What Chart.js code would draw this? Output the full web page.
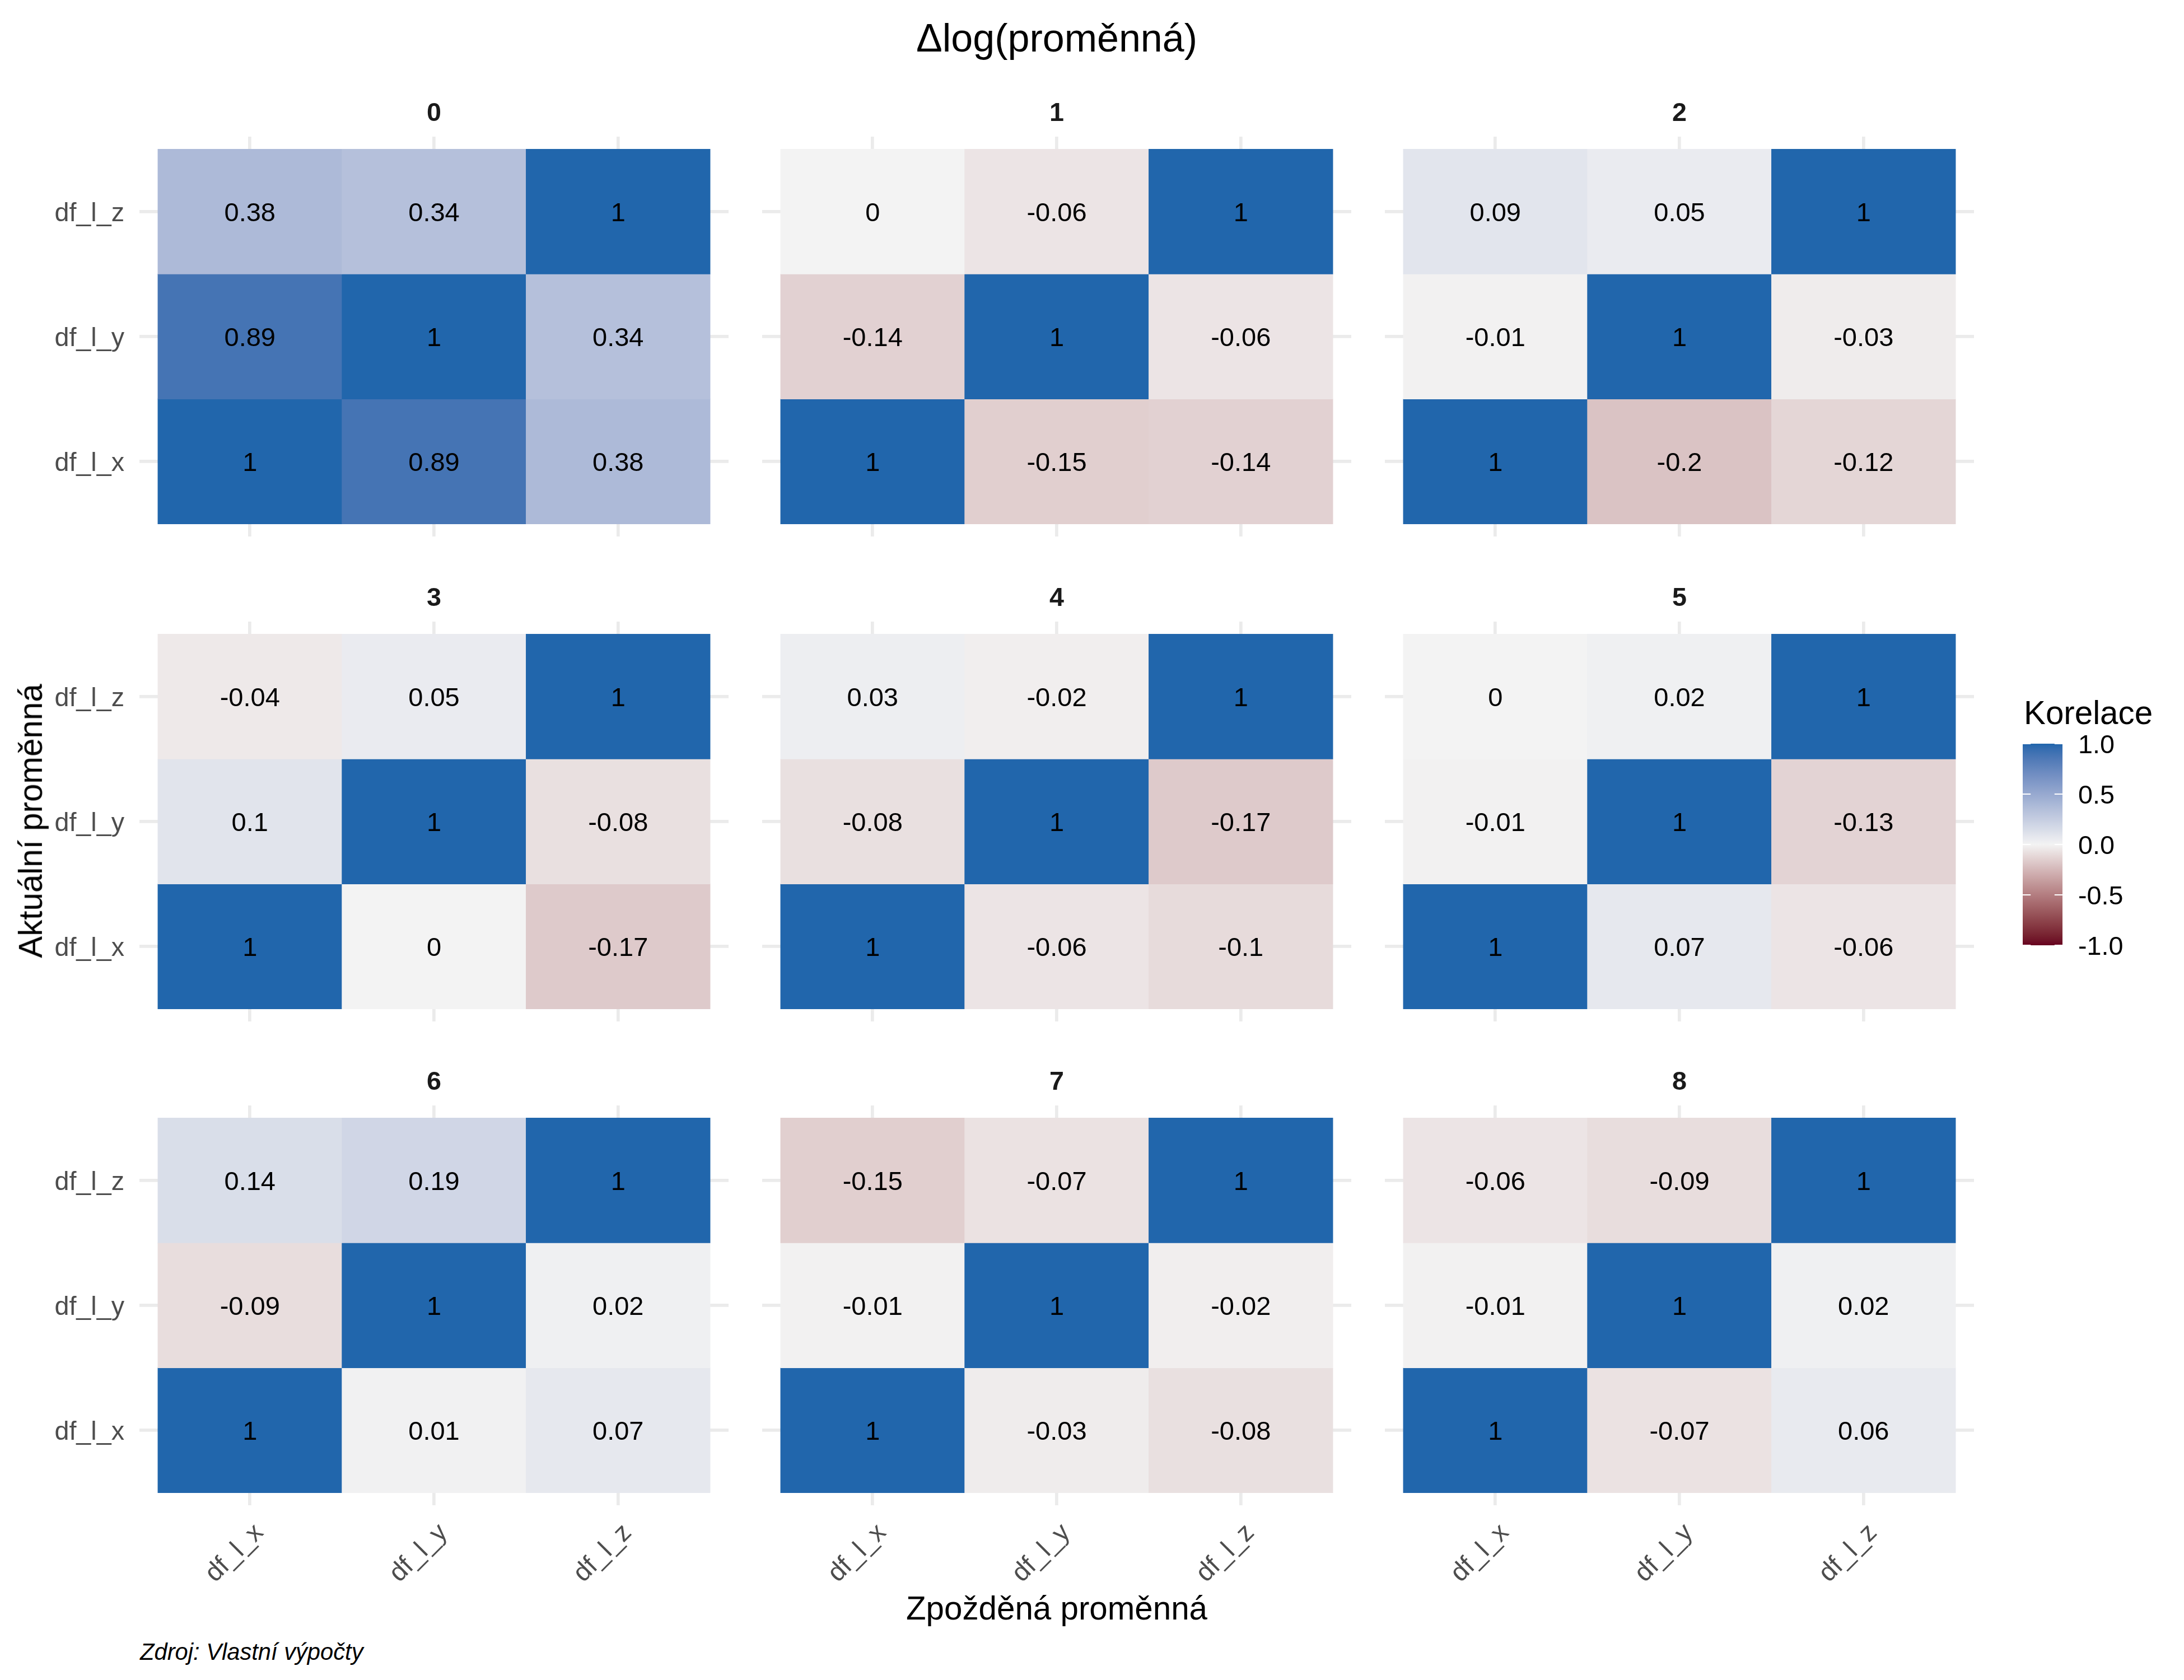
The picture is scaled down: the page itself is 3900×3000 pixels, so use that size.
<!DOCTYPE html>
<html lang="cs">
<head>
<meta charset="utf-8">
<title>Δlog(proměnná)</title>
<script src="https://cdn.jsdelivr.net/npm/chart.js@4.4.1/dist/chart.umd.min.js"></script>
<style>
  body { margin: 0; background: #fff; }
  #plot { position: relative; width: 3900px; height: 3000px; background: #fff; overflow: hidden;
          font-family: "Liberation Sans", Arial, sans-serif; }
  #plot canvas { position: absolute; }
  .txt { position: absolute; white-space: nowrap; line-height: 1; }
</style>
</head>
<body>
<div id="plot"></div>
<script>
// popisky
const lagy = ["0", "1", "2", "3", "4", "5", "6", "7", "8"];
const promenne = ["df_l_x", "df_l_y", "df_l_z"];
const legendaTicks = [-1, -0.5, 0, 0.5, 1];

// korelace: radek = aktualni promenna (df_l_x, df_l_y, df_l_z), sloupec = zpozdena promenna
const lag0 = [
    [1, 0.89, 0.38],
    [0.89, 1, 0.34],
    [0.38, 0.34, 1],
];
const lag1 = [
    [1, -0.15, -0.14],
    [-0.14, 1, -0.06],
    [0, -0.06, 1],
];
const lag2 = [
    [1, -0.2, -0.12],
    [-0.01, 1, -0.03],
    [0.09, 0.05, 1],
];
const lag3 = [
    [1, 0, -0.17],
    [0.1, 1, -0.08],
    [-0.04, 0.05, 1],
];
const lag4 = [
    [1, -0.06, -0.1],
    [-0.08, 1, -0.17],
    [0.03, -0.02, 1],
];
const lag5 = [
    [1, 0.07, -0.06],
    [-0.01, 1, -0.13],
    [0, 0.02, 1],
];
const lag6 = [
    [1, 0.01, 0.07],
    [-0.09, 1, 0.02],
    [0.14, 0.19, 1],
];
const lag7 = [
    [1, -0.03, -0.08],
    [-0.01, 1, -0.02],
    [-0.15, -0.07, 1],
];
const lag8 = [
    [1, -0.07, 0.06],
    [-0.01, 1, 0.02],
    [-0.06, -0.09, 1],
];
const korelace = [lag0, lag1, lag2, lag3, lag4, lag5, lag6, lag7, lag8];

const FONT = '"Liberation Sans", Arial, sans-serif';
Chart.defaults.font.family = FONT;

// barvy: gradient2 v Lab prostoru (low - mid - high)
const barvaLow = "#67001F";
const barvaMid = "#F3F3F3";
const barvaHigh = "#2166AC";

function hexToLab(hex) {
    const rgb = [1, 3, 5].map(i => parseInt(hex.slice(i, i + 2), 16) / 255)
        .map(c => c <= 0.04045 ? c / 12.92 : Math.pow((c + 0.055) / 1.055, 2.4));
    const [r, g, b] = rgb;
    const x = (0.4124564 * r + 0.3575761 * g + 0.1804375 * b) / 0.95047;
    const y = (0.2126729 * r + 0.7151522 * g + 0.0721750 * b);
    const z = (0.0193339 * r + 0.1191920 * g + 0.9503041 * b) / 1.08883;
    const f = t => t > 0.008856 ? Math.cbrt(t) : 7.787 * t + 16 / 116;
    const fx = f(x), fy = f(y), fz = f(z);
    return [116 * fy - 16, 500 * (fx - fy), 200 * (fy - fz)];
}

function labToRgb([L, a, bb]) {
    const fy = (L + 16) / 116;
    const fx = fy + a / 500;
    const fz = fy - bb / 200;
    const inv = t => t * t * t > 0.008856 ? t * t * t : (t - 16 / 116) / 7.787;
    const x = inv(fx) * 0.95047, y = inv(fy), z = inv(fz) * 1.08883;
    let r = 3.2404542 * x - 1.5371385 * y - 0.4985314 * z;
    let g = -0.9692660 * x + 1.8760108 * y + 0.0415560 * z;
    let b = 0.0556434 * x - 0.2040259 * y + 1.0572252 * z;
    const gam = c => c <= 0.0031308 ? 12.92 * c : 1.055 * Math.pow(c, 1 / 2.4) - 0.055;
    return [r, g, b].map(c => Math.round(Math.min(1, Math.max(0, gam(c))) * 255));
}

const labLow = hexToLab(barvaLow), labMid = hexToLab(barvaMid), labHigh = hexToLab(barvaHigh);

function barvaPro(v) {
    const t = Math.max(-1, Math.min(1, v));
    const [od, k, s] = t < 0 ? [labMid, labLow, -t] : [labMid, labHigh, t];
    const lab = od.map((c, i) => c + (k[i] - c) * s);
    const [r, g, b] = labToRgb(lab);
    return `rgb(${r},${g},${b})`;
}

function popisek(v) {
    return String(Number(v.toFixed(2)));
}

// rozlozeni panelu (facet 3x3)
const plot = document.getElementById("plot");
const panelLeft = [249, 1361, 2473];
const panelTop = [244, 1110, 1974];
const panelW = 1052;
const panelH = 714;

const textPlugin = {
    id: "hodnoty",
    afterDatasetsDraw(chart) {
        const ctx = chart.ctx;
        const meta = chart.getDatasetMeta(0);
        ctx.save();
        ctx.font = `47px ${FONT}`;
        ctx.fillStyle = "#000";
        ctx.textAlign = "center";
        ctx.textBaseline = "middle";
        meta.data.forEach((bar, i) => {
            const raw = chart.data.datasets[0].data[i];
            ctx.fillText(popisek(raw.v), bar.x, (bar.y + bar.base) / 2 + 4);
        });
        ctx.restore();
    }
};

function pridejText(text, x, y, styl, transform) {
    const d = document.createElement("div");
    d.className = "txt";
    d.textContent = text;
    d.style.left = x + "px";
    d.style.top = y + "px";
    Object.assign(d.style, styl);
    d.style.transform = transform || "translate(-50%, -50%)";
    plot.appendChild(d);
}

function vytvorCanvas(left, top, w, h) {
    const cv = document.createElement("canvas");
    cv.width = w;
    cv.height = h;
    cv.style.left = left + "px";
    cv.style.top = top + "px";
    cv.style.width = w + "px";
    cv.style.height = h + "px";
    plot.appendChild(cv);
    return cv;
}

lagy.forEach((lag, k) => {
    const c = k % 3;
    const r = Math.floor(k / 3);
    const vlevo = c === 0;
    const dole = r === 2;
    const yAxisW = vlevo ? 220 : 0;
    const xAxisH = dole ? 200 : 0;
    const padTop = 70;
    const padBottom = dole ? 0 : 70;

    const cv = vytvorCanvas(panelLeft[c] - yAxisW, panelTop[r] - padTop,
        yAxisW + panelW, padTop + panelH + (dole ? xAxisH : padBottom));

    const matice = korelace[k];
    const bunky = [];
    const barvy = [];
    matice.forEach((radek, ri) => {
        radek.forEach((v, ci) => {
            bunky.push({ x: ci + 1, y: [ri + 0.5, ri + 1.5], v: v });
            barvy.push(barvaPro(v));
        });
    });

    new Chart(cv, {
        type: "bar",
        data: {
            datasets: [{
                data: bunky,
                backgroundColor: barvy,
                borderWidth: 0,
                barPercentage: 1,
                categoryPercentage: 1,
            }],
        },
        options: {
            responsive: false,
            animation: false,
            events: [],
            layout: { padding: { top: padTop, bottom: padBottom, left: 0, right: 0 } },
            plugins: { legend: { display: false }, tooltip: { enabled: false } },
            scales: {
                x: {
                    type: "linear",
                    min: 0.4,
                    max: 3.6,
                    bounds: "data",
                    offset: false,
                    afterBuildTicks: s => { s.ticks = promenne.map((_, i) => ({ value: i + 1 })); },
                    afterFit: s => { s.height = xAxisH; },
                    grid: { color: "#EBEBEB", lineWidth: 5.7, drawTicks: false, offset: false },
                    border: { display: false },
                    ticks: {
                        display: dole,
                        autoSkip: false,
                        minRotation: 45,
                        maxRotation: 45,
                        padding: 22,
                        labelOffset: 17,
                        color: "#4D4D4D",
                        font: { size: 46.7 },
                        callback: v => promenne[v - 1],
                    },
                },
                y: {
                    type: "linear",
                    min: 0.4,
                    max: 3.6,
                    bounds: "data",
                    offset: false,
                    afterBuildTicks: s => { s.ticks = promenne.map((_, i) => ({ value: i + 1 })); },
                    afterFit: s => { s.width = yAxisW; },
                    grid: { color: "#EBEBEB", lineWidth: 5.7, drawTicks: false, offset: false },
                    border: { display: false },
                    ticks: {
                        display: vlevo,
                        autoSkip: false,
                        padding: 27,
                        labelOffset: 4,
                        color: "#4D4D4D",
                        font: { size: 46.7 },
                        callback: v => promenne[v - 1],
                    },
                },
            },
        },
        plugins: [textPlugin],
    });

    // nadpis panelu (strip)
    pridejText(lag, panelLeft[c] + panelW / 2, panelTop[r] - 44,
        { fontSize: "46.7px", fontWeight: "bold", color: "#1A1A1A" });
});

// legenda - colorbar
const legendaPlugin = {
    id: "legendaTicks",
    afterDatasetsDraw(chart) {
        const ctx = chart.ctx;
        const area = chart.chartArea;
        const w = area.right - area.left;
        ctx.save();
        ctx.strokeStyle = "#FFFFFF";
        ctx.lineWidth = 2;
        legendaTicks.forEach(v => {
            const y = chart.scales.y.getPixelForValue(v);
            ctx.beginPath();
            ctx.moveTo(area.left, y);
            ctx.lineTo(area.left + w * 0.2, y);
            ctx.moveTo(area.right - w * 0.2, y);
            ctx.lineTo(area.right, y);
            ctx.stroke();
        });
        ctx.restore();
    }
};

const legCanvas = vytvorCanvas(3612, 1258, 221, 500);
new Chart(legCanvas, {
    type: "bar",
    data: {
        labels: [""],
        datasets: [{
            data: [[-1, 1]],
            borderWidth: 0,
            barPercentage: 1,
            categoryPercentage: 1,
            backgroundColor: ctx => {
                const chart = ctx.chart;
                if (!chart.chartArea) return barvaMid;
                const ys = chart.scales.y;
                const g = chart.ctx.createLinearGradient(0, ys.getPixelForValue(-1), 0, ys.getPixelForValue(1));
                for (let i = 0; i <= 40; i++) {
                    g.addColorStop(i / 40, barvaPro(-1 + i / 20));
                }
                return g;
            },
        }],
    },
    options: {
        responsive: false,
        animation: false,
        events: [],
        layout: { padding: { top: 70, bottom: 70, left: 0, right: 0 } },
        plugins: { legend: { display: false }, tooltip: { enabled: false } },
        scales: {
            x: { type: "category", display: false },
            y: {
                type: "linear",
                position: "right",
                min: -1,
                max: 1,
                afterBuildTicks: s => { s.ticks = legendaTicks.map(v => ({ value: v })); },
                afterFit: s => { s.width = 150; },
                grid: { display: false, drawTicks: false },
                border: { display: false },
                ticks: {
                    padding: 28,
                    labelOffset: 4,
                    color: "#000",
                    font: { size: 46.7 },
                    callback: v => v.toFixed(1),
                },
            },
        },
    },
    plugins: [legendaPlugin],
});

// texty
pridejText("Δlog(proměnná)", 1887, 68, { fontSize: "70px", color: "#000" });
pridejText("Aktuální proměnná", 55, 1466, { fontSize: "58.3px", color: "#000" },
    "translate(-50%, -50%) rotate(-90deg)");
pridejText("Zpožděná proměnná", 1887, 2872, { fontSize: "58.3px", color: "#000" });
pridejText("Korelace", 3614, 1273, { fontSize: "58.3px", color: "#000" }, "translate(0, -50%)");
pridejText("Zdroj: Vlastní výpočty", 250, 2950,
    { fontSize: "41.7px", fontStyle: "italic", color: "#000" }, "translate(0, -50%)");
</script>
</body>
</html>
